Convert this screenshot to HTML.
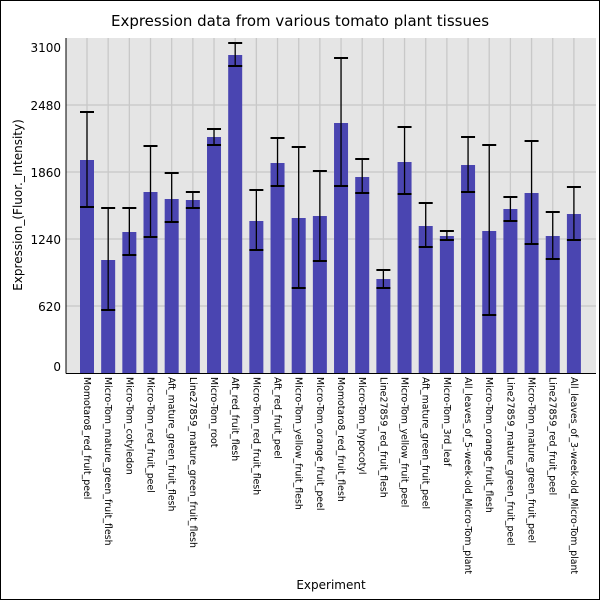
<!DOCTYPE html>
<html><head><meta charset="utf-8"><style>
html,body{margin:0;padding:0;background:#fff}
svg{display:block}
text{font-family:"DejaVu Sans","Liberation Sans",sans-serif}
</style></head><body>
<svg width="600" height="600" viewBox="0 0 600 600" xmlns="http://www.w3.org/2000/svg">
<rect x="0.5" y="0.5" width="599" height="599" fill="#fff" stroke="#000"/>
<text x="300" y="26" font-size="15" text-anchor="middle">Expression data from various tomato plant tissues</text>
<rect x="66" y="38" width="530" height="335" fill="#e5e5e5"/>
<g stroke="#c8c8c8" stroke-width="1.3" id="grid"></g>
<g id="bars"></g>
<line x1="66" y1="38" x2="66" y2="373.5" stroke="#000"/>
<line x1="66" y1="373.5" x2="596" y2="373.5" stroke="#000"/>
<g font-size="12" text-anchor="end">
<text x="61" y="52">3100</text>
<text x="61" y="110">2480</text>
<text x="61" y="177">1860</text>
<text x="61" y="244">1240</text>
<text x="61" y="311">620</text>
<text x="61" y="371">0</text>
</g>
<text transform="translate(22,205) rotate(-90)" font-size="12" text-anchor="middle">Expression_(Fluor._Intensity)</text>
<text x="331" y="589" font-size="12" text-anchor="middle">Experiment</text>
<g id="labels" font-size="9.4"></g>
</svg>
<script>
var d=[
["Momotaro8_red_fruit_peel",160,112,207],
["Micro-Tom_mature_green_fruit_flesh",260,208,310],
["Micro-Tom_cotyledon",232,208,255],
["Micro-Tom_red_fruit_peel",192,146,237],
["Aft_mature_green_fruit_flesh",199,173,222],
["Line27859_mature_green_fruit_flesh",200,192,208],
["Micro-Tom_root",137,129,145],
["Aft_red_fruit_flesh",55,43,66],
["Micro-Tom_red_fruit_flesh",221,190,250],
["Aft_red_fruit_peel",163,138,186],
["Micro-Tom_yellow_fruit_flesh",218,147,288],
["Micro-Tom_orange_fruit_peel",216,171,261],
["Momotaro8_red_fruit_flesh",123,58,186],
["Micro-Tom_hypocotyl",177,159,193],
["Line27859_red_fruit_flesh",279,270,288],
["Micro-Tom_yellow_fruit_peel",162,127,194],
["Aft_mature_green_fruit_peel",226,203,247],
["Micro-Tom_3rd_leaf",236,231,240],
["All_leaves_of_5-week-old_Micro-Tom_plant",165,137,192],
["Micro-Tom_orange_fruit_flesh",231,145,315],
["Line27859_mature_green_fruit_peel",209,197,221],
["Micro-Tom_mature_green_fruit_peel",193,141,244],
["Line27859_red_fruit_peel",236,212,259],
["All_leaves_of_3-week-old_Micro-Tom_plant",214,187,240]];
var NS="http://www.w3.org/2000/svg";
function el(p,t,a,txt){var e=document.createElementNS(NS,t);for(var k in a)e.setAttribute(k,a[k]);if(txt)e.textContent=txt;p.appendChild(e);return e;}
var g=document.getElementById("grid"),b=document.getElementById("bars"),l=document.getElementById("labels");
[105,172,239,306].forEach(function(y){el(g,"line",{x1:66,x2:596,y1:y,y2:y});});
d.forEach(function(r,i){var cx=87+i*21.17;
el(g,"line",{x1:cx,x2:cx,y1:38,y2:373});
el(b,"rect",{x:cx-7,y:r[1],width:14,height:373-r[1],fill:"#4a45b1"});
el(b,"line",{x1:cx,x2:cx,y1:r[2],y2:r[3],stroke:"#000","stroke-width":1.3});
el(b,"line",{x1:cx-7,x2:cx+7,y1:r[2],y2:r[2],stroke:"#000","stroke-width":2});
el(b,"line",{x1:cx-7,x2:cx+7,y1:r[3],y2:r[3],stroke:"#000","stroke-width":2});
el(l,"text",{transform:"translate("+(cx-3)+",377) rotate(90)"},r[0]);
});
</script>
</body></html>
